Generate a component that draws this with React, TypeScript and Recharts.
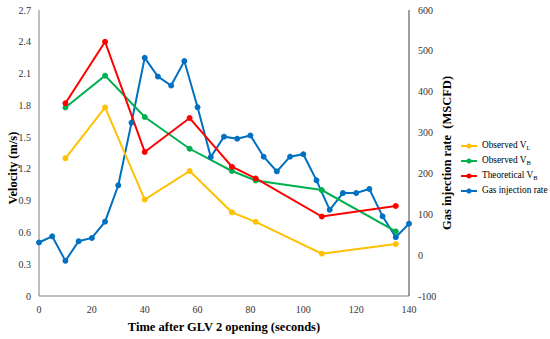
import React from 'react';
import { ComposedChart, Line, XAxis, YAxis, Legend } from 'recharts';

// Bubble / liquid velocity measurements (time in seconds)
const velocityTimes = [10, 25, 40, 57, 73, 82, 107, 135];
const observedVL = [1.3, 1.78, 0.91, 1.18, 0.79, 0.7, 0.4, 0.49];
const observedVB = [1.78, 2.08, 1.69, 1.39, 1.18, 1.09, 1.0, 0.61];
const theoreticalVB = [1.82, 2.4, 1.36, 1.68, 1.22, 1.11, 0.75, 0.85];

// Gas injection rate (MSCFD)
const gasTimes = [
  0, 5, 10, 15, 20, 25, 30, 35, 40, 45, 50, 55, 60, 65, 70,
  75, 80, 85, 90, 95, 100, 105, 110, 115, 120, 125, 130, 135, 140,
];
const gasRate = [
  31, 46, -14, 34, 42, 82, 171, 324, 483, 437, 415, 475, 362, 240, 290,
  285, 293, 241, 205, 241, 247, 183, 111, 152, 152, 162, 95, 44, 77,
];

const xTicks = [0, 20, 40, 60, 80, 100, 120, 140];
const velocityTicks = [0, 0.3, 0.6, 0.9, 1.2, 1.5, 1.8, 2.1, 2.4, 2.7];
const gasTicks = [-100, 0, 100, 200, 300, 400, 500, 600];

const SERIF = '"Liberation Serif", "Times New Roman", serif';

const legendItems = [
  { name: 'Observed V', sub: 'L', color: '#FFC000' },
  { name: 'Observed V', sub: 'B', color: '#00B050' },
  { name: 'Theoretical V', sub: 'B', color: '#FF0000' },
  { name: 'Gas injection rate', sub: '', color: '#0070C0' },
];

const velocityData = velocityTimes.map((t, i) => ({
  t,
  vl: observedVL[i],
  vb: observedVB[i],
  tvb: theoreticalVB[i],
}));

const gasData = gasTimes.map((t, i) => ({ t, gas: gasRate[i] }));

function ChartLegend() {
  return (
    <div style={{ fontFamily: SERIF, fontSize: 9.3, color: '#000', whiteSpace: 'nowrap' }}>
      {legendItems.map((item) => (
        <div
          key={item.name + item.sub}
          style={{ display: 'flex', alignItems: 'center', height: 15 }}
        >
          <svg width={16} height={8} style={{ marginRight: 5, flexShrink: 0 }}>
            <line x1={0} y1={4} x2={16} y2={4} stroke={item.color} strokeWidth={2} />
            <circle cx={8} cy={4} r={2.5} fill={item.color} />
          </svg>
          <span style={{ lineHeight: '15px' }}>
            {item.name}
            {item.sub && (
              <span style={{ fontSize: 6.5, position: 'relative', top: 2 }}>{item.sub}</span>
            )}
          </span>
        </div>
      ))}
    </div>
  );
}

function Tick({ x, y, payload, textAnchor, fmt, dy }: any) {
  return (
    <text
      x={x}
      y={y}
      dy={dy}
      textAnchor={textAnchor}
      fontFamily={SERIF}
      fontSize={10}
      fill="#333"
    >
      {fmt ? fmt(payload.value) : payload.value}
    </text>
  );
}

const fmtVelocity = (v: number) => (v === 0 ? '0' : v.toFixed(1));

export default function App() {
  return (
    <div
      style={{
        position: 'absolute',
        left: 0,
        top: 0,
        width: 550,
        height: 339,
        background: '#fff',
        fontFamily: SERIF,
      }}
    >
      <ComposedChart
        width={550}
        height={339}
        margin={{ top: 10, right: 81, bottom: 8, left: 8 }}
        style={{ fontFamily: SERIF }}
      >
        <XAxis
          dataKey="t"
          type="number"
          domain={[0, 140]}
          ticks={xTicks}
          allowDuplicatedCategory={false}
          tickLine={false}
          stroke="#7f7f7f"
          tick={<Tick dy={9} />}
          height={35}
          label={({ viewBox }: any) => (
            <text
              x={viewBox.x + viewBox.width / 2}
              y={viewBox.y + 31}
              textAnchor="middle"
              dominantBaseline="central"
              fontFamily={SERIF}
              fontSize={12.5}
              fontWeight="bold"
              fill="#000"
            >
              Time after GLV 2 opening (seconds)
            </text>
          )}
        />
        <YAxis
          yAxisId="v"
          orientation="left"
          domain={[0, 2.7]}
          ticks={velocityTicks}
          tickLine={false}
          stroke="#7f7f7f"
          tick={<Tick dy={3.5} fmt={fmtVelocity} />}
          width={31}
          label={({ viewBox }: any) => {
            const cx = viewBox.x + 5;
            const cy = viewBox.y + viewBox.height / 2 + 15;
            return (
              <text
                x={cx}
                y={cy}
                transform={`rotate(-90 ${cx} ${cy})`}
                textAnchor="middle"
                dominantBaseline="central"
                fontFamily={SERIF}
                fontSize={12.5}
                fontWeight="bold"
                fill="#000"
              >
                Velocity (m/s)
              </text>
            );
          }}
        />
        <YAxis
          yAxisId="g"
          orientation="right"
          domain={[-100, 600]}
          ticks={gasTicks}
          tickLine={false}
          tickMargin={3}
          stroke="#404040"
          tick={<Tick dy={3.5} />}
          width={60}
          label={({ viewBox }: any) => {
            const cx = viewBox.x + 38;
            const cy = viewBox.y + viewBox.height / 2;
            return (
              <text
                x={cx}
                y={cy}
                transform={`rotate(-90 ${cx} ${cy})`}
                textAnchor="middle"
                dominantBaseline="central"
                fontFamily={SERIF}
                fontSize={12.5}
                fontWeight="bold"
                fill="#000"
                style={{ whiteSpace: 'pre' }}
              >
                {'Gas injection rate  (MSCFD)'}
              </text>
            );
          }}
        />
        <Legend
          layout="vertical"
          align="center"
          verticalAlign="middle"
          content={() => <ChartLegend />}
          wrapperStyle={{ left: 461, top: 138, width: 89, height: 60 }}
        />
        <Line
          yAxisId="g"
          data={gasData}
          dataKey="gas"
          name="Gas injection rate"
          stroke="#0070C0"
          strokeWidth={2}
          dot={{ r: 2.5, fill: '#0070C0', stroke: '#0070C0', strokeWidth: 1 }}
          isAnimationActive={false}
        />
        <Line
          yAxisId="v"
          data={velocityData}
          dataKey="vl"
          name="Observed VL"
          stroke="#FFC000"
          strokeWidth={2}
          dot={{ r: 2.5, fill: '#FFC000', stroke: '#FFC000', strokeWidth: 1 }}
          isAnimationActive={false}
        />
        <Line
          yAxisId="v"
          data={velocityData}
          dataKey="vb"
          name="Observed VB"
          stroke="#00B050"
          strokeWidth={2}
          dot={{ r: 2.5, fill: '#00B050', stroke: '#00B050', strokeWidth: 1 }}
          isAnimationActive={false}
        />
        <Line
          yAxisId="v"
          data={velocityData}
          dataKey="tvb"
          name="Theoretical VB"
          stroke="#FF0000"
          strokeWidth={2}
          dot={{ r: 2.5, fill: '#FF0000', stroke: '#FF0000', strokeWidth: 1 }}
          isAnimationActive={false}
        />
      </ComposedChart>
    </div>
  );
}
